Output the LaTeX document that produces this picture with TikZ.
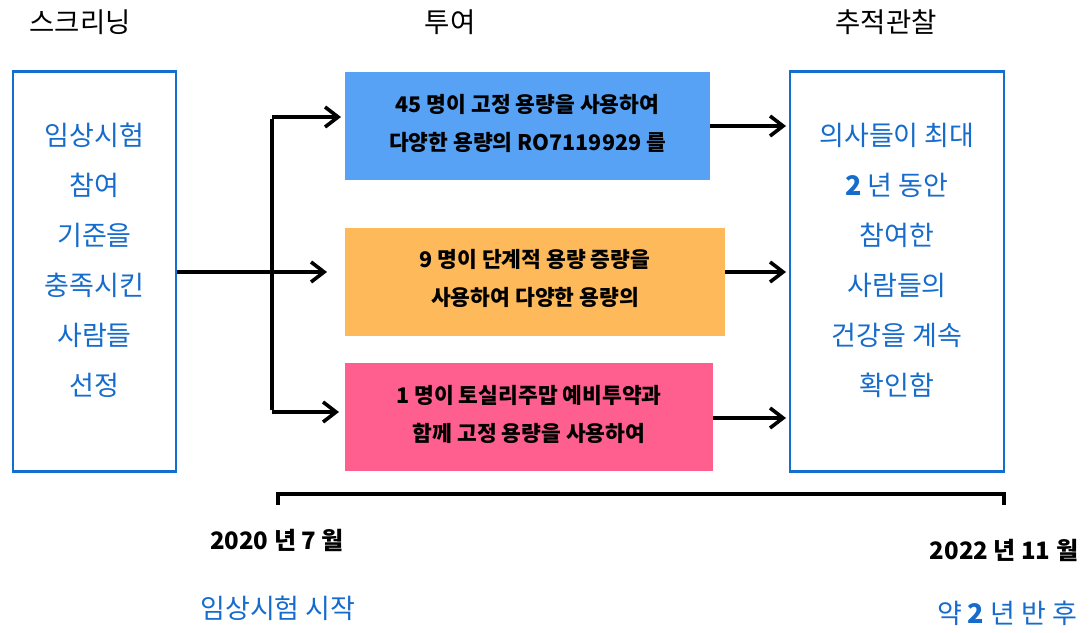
\documentclass[tikz,border=0pt]{standalone}
\usepackage{fontspec}
\setmainfont{Noto Sans CJK KR}
\usetikzlibrary{arrows.meta}
\definecolor{txtblue}{RGB}{22,108,204}
\definecolor{bordblue}{RGB}{20,110,205}
\definecolor{fillblue}{RGB}{87,162,244}
\definecolor{fillorange}{RGB}{253,185,90}
\definecolor{fillpink}{RGB}{255,95,143}
\tikzset{
  sidebox/.style={draw=bordblue, line width=2.4pt, fill=white},
  dosebox/.style={draw=none, inner sep=0pt},
  dosetext/.style={align=center, font=\fontsize{21.5}{38}\selectfont\bfseries, text=black},
  sidetext/.style={align=center, text=txtblue, font=\fontsize{27}{50}\selectfont},
  header/.style={font=\fontsize{27.5}{30}\selectfont, text=black},
  datetext/.style={font=\fontsize{24}{28}\selectfont\bfseries, text=black},
  bluetext/.style={font=\fontsize{27}{30}\selectfont, text=txtblue},
  ln/.style={line width=3.2pt, black},
  arr/.style={line width=3.2pt, black, -{Straight Barb[length=13pt,width=20pt,line width=3.6pt]}},
}
\begin{document}
\begin{tikzpicture}[x=1pt,y=-1pt]
\useasboundingbox (0,0) rectangle (1089,632);
% headers
\node[header] (h1) at (80,22) {스크리닝};
\node[header] (h2) at (450,22) {투여};
\node[header] (h3) at (886,22) {추적관찰};
% side boxes
\node[sidebox, minimum width=163pt, minimum height=400pt, inner sep=0pt] (L) at (94.5,271.5) {};
\node[sidetext] (Lt) at (94.5,260) {임상시험\\참여\\기준을\\충족시킨\\사람들\\선정};
\node[sidebox, minimum width=214pt, minimum height=400pt, inner sep=0pt] (R) at (897,271.5) {};
\node[sidetext] (Rt) at (897,260) {의사들이 최대\\\textbf{2} 년 동안\\참여한\\사람들의\\건강을 계속\\확인함};
% dose boxes
\node[dosebox, fill=fillblue, minimum width=365pt, minimum height=108pt] (B1) at (527.5,126) {};
\node[dosetext] (B1t) at (527.5,123) {45 명이 고정 용량을 사용하여\\다양한 용량의 RO7119929 를};
\node[dosebox, fill=fillorange, minimum width=380pt, minimum height=108pt] (B2) at (535,282) {};
\node[dosetext] (B2t) at (535,278) {9 명이 단계적 용량 증량을\\사용하여 다양한 용량의};
\node[dosebox, fill=fillpink, minimum width=368pt, minimum height=108pt] (B3) at (529,417) {};
\node[dosetext] (B3t) at (529,414) {1 명이 토실리주맙 예비투약과\\함께 고정 용량을 사용하여};
% connectors left
\coordinate (J) at (272,272);
\coordinate (Jt) at (272,117);
\coordinate (Jb) at (272,412);
\coordinate (a1) at (341,117);
\coordinate (a2) at (327,272);
\coordinate (a3) at (339,412);
\draw[ln] ([yshift=-1.6pt]Jt) -- ([yshift=1.6pt]Jb);
\draw[arr] (L.east |- J) -- (a2);
\draw[arr] (Jt) -- (a1);
\draw[arr] (Jb) -- (a3);
% connectors right
\coordinate (r1) at (786,126);
\coordinate (r2) at (786,272);
\coordinate (r3) at (786,418);
\draw[arr] (B1.east) -- (r1);
\draw[arr] (B2.east |- r2) -- (r2);
\draw[arr] (B3.east |- r3) -- (r3);
% timeline bracket
\coordinate (T1) at (278,505);
\coordinate (T2) at (1004,505);
\coordinate (Ttop) at (0,494);
\draw[line width=3.2pt, line cap=butt] (T1) -- (T1 |- Ttop) -- (T2 |- Ttop) -- (T2);
% dates
\node[datetext] (d1) at (277,540) {2020 년 7 월};
\node[datetext] (d2) at (1004,550) {2022 년 11 월};
\node[bluetext] (s1) at (278,608) {임상시험 시작};
\node[bluetext] (s2) at (1007,613) {약 \textbf{2} 년 반 후};
\end{tikzpicture}
\end{document}
